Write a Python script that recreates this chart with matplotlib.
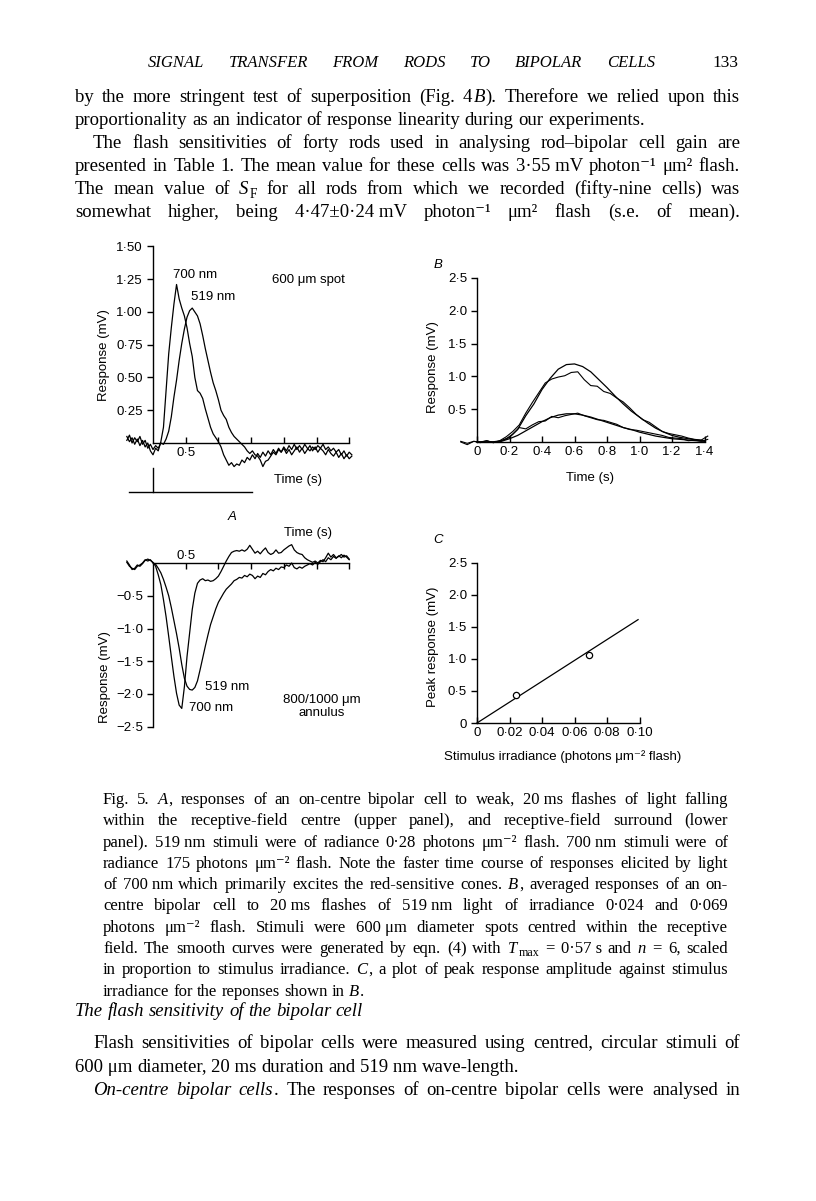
import numpy as np
import matplotlib
matplotlib.use("Agg")
import matplotlib.pyplot as plt
from matplotlib.backends.backend_agg import get_hinting_flag

W, H = 816, 1201
SANS = "Liberation Sans"
SERIF = "Liberation Serif"
BOOK = [SERIF, "DejaVu Serif"]

# ---- panel A, traces sampled every 40 ms (time of flash = 0) ----
T_A = np.round(np.arange(-0.40, 3.05, 0.04), 2)

A_UP_700 = [0.05, 0.01, 0.04, -0.01, 0.03, -0.02, 0.02, -0.03, 0.00, -0.06,
            -0.09, -0.04, -0.06, 0.01, 0.12, 0.40, 0.68, 0.88, 1.06, 1.21,
            1.10, 1.03, 0.97, 0.88, 0.76, 0.66, 0.50, 0.40, 0.38, 0.34,
            0.26, 0.19, 0.12, 0.07, 0.04, 0.01, -0.03, -0.09, -0.13, -0.17,
            -0.15, -0.18, -0.16, -0.17, -0.13, -0.15, -0.11, -0.13, -0.09, -0.12,
            -0.08, -0.11, -0.07, -0.10, -0.06, -0.09, -0.05, -0.08, -0.04, -0.07,
            -0.04, -0.08, -0.05, -0.09, -0.06, -0.03, -0.07, -0.04, -0.08, -0.05,
            -0.02, -0.06, -0.03, -0.07, -0.04, -0.06, -0.09, -0.05, -0.08, -0.10,
            -0.07, -0.11, -0.08, -0.12, -0.09, -0.12, -0.10]
A_UP_519 = [0.02, 0.06, 0.00, 0.04, 0.01, 0.05, -0.01, 0.02, -0.04, -0.01,
            -0.05, -0.02, -0.04, 0.00, -0.01, 0.03, 0.09, 0.20, 0.35, 0.48,
            0.63, 0.76, 0.87, 0.96, 1.01, 1.03, 1.00, 0.97, 0.91, 0.82,
            0.72, 0.63, 0.54, 0.46, 0.40, 0.33, 0.25, 0.21, 0.18, 0.12,
            0.08, 0.05, 0.03, 0.01, -0.01, -0.03, -0.06, -0.08, -0.06, -0.09,
            -0.10, -0.13, -0.18, -0.14, -0.13, -0.10, -0.07, -0.09, -0.05, -0.07,
            -0.03, -0.06, -0.02, -0.05, -0.01, -0.05, -0.02, -0.05, -0.01, -0.04,
            -0.06, -0.03, -0.05, -0.02, -0.04, -0.01, -0.05, -0.03, -0.06, -0.04,
            -0.07, -0.05, -0.09, -0.06, -0.10, -0.07, -0.09]

A_LO_700 = [0.03, -0.03, -0.10, -0.08, -0.03, -0.05, -0.01, 0.04, 0.06, 0.04,
            0.01, -0.05, -0.18, -0.33, -0.56, -0.82, -1.12, -1.43, -1.73, -1.99,
            -2.17, -2.22, -1.89, -1.43, -1.07, -0.71, -0.46, -0.31, -0.26, -0.24,
            -0.27, -0.26, -0.28, -0.27, -0.24, -0.20, -0.13, -0.05, 0.03, 0.10,
            0.16, 0.18, 0.19, 0.18, 0.20, 0.18, 0.21, 0.27, 0.21, 0.15,
            0.18, 0.14, 0.19, 0.23, 0.16, 0.13, 0.15, 0.20, 0.15, 0.16,
            0.20, 0.23, 0.26, 0.28, 0.20, 0.16, 0.14, 0.13, 0.08, 0.05,
            0.03, 0.01, 0.03, 0.00, 0.04, 0.02, 0.08, 0.15, 0.09, 0.13,
            0.08, 0.10, 0.13, 0.09, 0.11, 0.06]
A_LO_519 = [0.01, -0.05, -0.08, -0.10, -0.05, -0.03, 0.00, 0.05, 0.03, 0.05,
            0.00, -0.02, -0.08, -0.15, -0.25, -0.37, -0.50, -0.68, -0.88, -1.08,
            -1.30, -1.55, -1.76, -1.88, -1.93, -1.94, -1.90, -1.80, -1.63, -1.45,
            -1.27, -1.10, -0.94, -0.82, -0.70, -0.60, -0.53, -0.46, -0.40, -0.36,
            -0.32, -0.27, -0.25, -0.22, -0.23, -0.19, -0.21, -0.17, -0.19, -0.24,
            -0.20, -0.22, -0.16, -0.18, -0.13, -0.10, -0.12, -0.08, -0.10, -0.06,
            -0.07, -0.03, -0.05, 0.00, -0.07, -0.09, -0.06, -0.08, -0.05, -0.03,
            -0.01, -0.03, 0.01, -0.02, 0.02, 0.05, 0.02, 0.08, 0.05, 0.10,
            0.07, 0.11, 0.08, 0.12, 0.09, 0.05]

# flash marker under the upper trace (s, mV)
STIM_BAR_T = [-0.37, 1.52]
STIM_LEVEL = -0.375
STIM_TOP = -0.19

A_XTICKS = [0.5, 1.0, 1.5, 2.0, 2.5, 3.0]
A_XLABELS = ["0·5", "", "", "", "", ""]
A_UP_YTICKS = [0.25, 0.5, 0.75, 1.0, 1.25, 1.5]
A_UP_YLABELS = ["0·25", "0·50", "0·75", "1·00", "1·25", "1·50"]
A_LO_YTICKS = [-0.5, -1.0, -1.5, -2.0, -2.5]
A_LO_YLABELS = ["\u22120·5", "\u22121·0", "\u22121·5", "\u22122·0", "\u22122·5"]

# ---- panel B ----
T_B = np.round(np.arange(-0.10, 1.43, 0.04), 2)
B_HIGH = [0.01, -0.02, 0.01, -0.01, 0.02, -0.01, 0.02, 0.08, 0.16, 0.26,
          0.44, 0.60, 0.75, 0.90, 0.96, 0.99, 1.01, 1.06, 1.07, 0.95,
          0.86, 0.85, 0.77, 0.74, 0.67, 0.61, 0.52, 0.42, 0.34, 0.30,
          0.23, 0.16, 0.13, 0.11, 0.09, 0.06, 0.04, 0.03, 0.09]
B_LOW = [0.00, -0.04, 0.01, 0.00, 0.02, -0.01, 0.01, 0.05, 0.12, 0.22,
         0.20, 0.26, 0.31, 0.32, 0.39, 0.37, 0.40, 0.42, 0.44, 0.40,
         0.37, 0.34, 0.33, 0.30, 0.27, 0.22, 0.19, 0.18, 0.16, 0.14,
         0.12, 0.10, 0.07, 0.06, 0.05, 0.02, 0.03, 0.01, 0.04]
T_SMOOTH = np.round(np.arange(0.0, 1.41, 0.05), 2)
B_FIT_HIGH = [0.00, 0.00, 0.003, 0.02, 0.07, 0.19, 0.40, 0.58, 0.80, 0.97,
              1.11, 1.18, 1.19, 1.15, 1.07, 0.95, 0.83, 0.70, 0.58, 0.47,
              0.38, 0.29, 0.21, 0.15, 0.10, 0.07, 0.05, 0.03, 0.02]
B_FIT_LOW = [0.00, 0.00, 0.001, 0.01, 0.05, 0.10, 0.17, 0.24, 0.31, 0.37,
             0.41, 0.43, 0.43, 0.41, 0.38, 0.34, 0.30, 0.26, 0.22, 0.19,
             0.15, 0.12, 0.09, 0.07, 0.05, 0.04, 0.03, 0.02, 0.01]
B_XTICKS = [0, 0.2, 0.4, 0.6, 0.8, 1.0, 1.2, 1.4]
B_XLABELS = ["0", "0·2", "0·4", "0·6", "0·8", "1·0", "1·2", "1·4"]
B_YTICKS = [0.5, 1.0, 1.5, 2.0, 2.5]
B_YLABELS = ["0·5", "1·0", "1·5", "2·0", "2·5"]

# ---- panel C ----
C_IRR = [0.024, 0.069]
C_PEAK = [0.44, 1.06]
C_FIT_X = [0.0, 0.099]
C_FIT_Y = [0.0, 1.61]
C_XTICKS = [0, 0.02, 0.04, 0.06, 0.08, 0.10]
C_XLABELS = ["0", "0·02", "0·04", "0·06", "0·08", "0·10"]
C_YTICKS = [0, 0.5, 1.0, 1.5, 2.0, 2.5]
C_YLABELS = ["0", "0·5", "1·0", "1·5", "2·0", "2·5"]

# ---- page text ----
# inside a word, "|" splits pieces; a piece starting with ~ is italic, with _ a subscript
HEADER = "SIGNAL TRANSFER FROM RODS TO BIPOLAR CELLS"
PAGE_NO = "133"
BODY = [
    ("by the more stringent test of superposition (Fig. 4|~B|). Therefore we relied upon this", 75, True),
    ("proportionality as an indicator of response linearity during our experiments.", 75, False),
    ("The flash sensitivities of forty rods used in analysing rod\u2013bipolar cell gain are", 93, True),
    ("presented in Table 1. The mean value for these cells was 3·55\u00a0mV photon\u207b\u00b9 \u03bcm\u00b2 flash.", 75, True),
    ("The mean value of ~S|_F for all rods from which we recorded (fifty-nine cells) was", 75, True),
    ("somewhat higher, being 4·47\u00b10·24\u00a0mV photon\u207b\u00b9 \u03bcm\u00b2 flash (s.e. of mean).", 75, True),
]
CAPTION = [
    ("Fig. 5. ~A|, responses of an on-centre bipolar cell to weak, 20\u00a0ms flashes of light falling", True),
    ("within the receptive-field centre (upper panel), and receptive-field surround (lower", True),
    ("panel). 519\u00a0nm stimuli were of radiance 0·28 photons \u03bcm\u207b\u00b2 flash. 700\u00a0nm stimuli were of", True),
    ("radiance 175 photons \u03bcm\u207b\u00b2 flash. Note the faster time course of responses elicited by light", True),
    ("of 700\u00a0nm which primarily excites the red-sensitive cones. ~B|, averaged responses of an on-", True),
    ("centre bipolar cell to 20\u00a0ms flashes of 519\u00a0nm light of irradiance 0·024 and 0·069", True),
    ("photons \u03bcm\u207b\u00b2 flash. Stimuli were 600\u00a0\u03bcm diameter spots centred within the receptive", True),
    ("field. The smooth curves were generated by eqn. (4) with ~T|_max = 0·57\u00a0s and ~n = 6, scaled", True),
    ("in proportion to stimulus irradiance. ~C|, a plot of peak response amplitude against stimulus", True),
    ("irradiance for the reponses shown in ~B|.", False),
]
SECTION = "The flash sensitivity of the bipolar cell"
TAIL = [
    ("Flash sensitivities of bipolar cells were measured using centred, circular stimuli of", 93, True),
    ("600\u00a0\u03bcm diameter, 20\u00a0ms duration and 519\u00a0nm wave-length.", 75, False),
    ("~On-centre ~bipolar ~cells|. The responses of on-centre bipolar cells were analysed in", 93, True),
]

plt.rcParams.update({
    "font.family": SANS,
    "axes.linewidth": 1.0,
    "lines.linewidth": 0.8,
    "xtick.labelsize": 9.5,
    "ytick.labelsize": 9.5,
    "xtick.major.size": 4.2,
    "ytick.major.size": 4.2,
    "xtick.major.width": 1.0,
    "ytick.major.width": 1.0,
    "xtick.major.pad": 3,
    "ytick.major.pad": 3,
})

fig = plt.figure(figsize=(W / 100, H / 100), dpi=100)
renderer = fig.canvas.get_renderer()


def px_axes(x_zero, y_zero, sx, sy, xlim, ylim):
    # place an axes so that data (0, 0) sits at pixel (x_zero, y_zero)
    left = x_zero + xlim[0] * sx
    right = x_zero + xlim[1] * sx
    top = y_zero - ylim[1] * sy
    bottom = y_zero - ylim[0] * sy
    ax = fig.add_axes([left / W, 1 - bottom / H, (right - left) / W, (bottom - top) / H])
    ax.set_xlim(xlim)
    ax.set_ylim(ylim)
    ax.patch.set_visible(False)
    for s in ax.spines.values():
        s.set_visible(False)
    return ax


def cross(ax, xb, yb, xside="bottom"):
    ax.spines["left"].set_visible(True)
    ax.spines["left"].set_position(("data", 0))
    ax.spines["left"].set_bounds(*yb)
    ax.spines[xside].set_visible(True)
    ax.spines[xside].set_position(("data", 0))
    ax.spines[xside].set_bounds(*xb)
    ax.xaxis.set_ticks_position(xside)
    ax.yaxis.set_ticks_position("left")
    ax.tick_params(axis="y", direction="out")
    ax.tick_params(axis="x", direction="in")


def ptext(x, y, s, **kw):
    kw.setdefault("ha", "center")
    kw.setdefault("va", "center")
    kw.setdefault("fontsize", 9.5)
    return fig.text(x / W, 1 - y / H, s, **kw)


def snap_baseline(t, row):
    # put the glyph baseline of text t exactly on pixel row `row` (counted from the top),
    # so that words drawn as separate texts line up
    font = renderer._prepare_font(t.get_fontproperties())
    font.set_text(t.get_text(), 0, flags=get_hinting_flag())
    h = font.get_width_height()[1] / 64.0
    d = font.get_descent() / 64.0
    y = row - int(h - d) + int(h) - d
    t.set_y(1 - y / H)


def build_word(word, size, italic):
    pieces = []
    for part in word.split("|"):
        it, sub = italic, False
        while part[:1] in ("~", "_"):
            if part[0] == "~":
                it = True
            else:
                sub = True
            part = part[1:]
        t = fig.text(0, 0, part, fontsize=size * (0.72 if sub else 1.0), family=BOOK,
                     fontstyle="italic" if it else "normal", ha="left", va="baseline")
        w = t.get_window_extent(renderer=renderer).width
        pieces.append((t, w, round(0.2 * size * 100 / 72) if sub else 0))
    return pieces


def line_of_text(s, x0, row, size, x1=None, italic=False):
    kern = 1.0
    row = int(round(row))
    words = [build_word(w, size, italic) for w in s.split(" ")]
    lens = [sum(w for _, w, _ in p) + kern * (len(p) - 1) for p in words]
    space = 0.25 * size * 100 / 72
    if x1 is None or len(words) < 2:
        gap = space
    else:
        gap = max((x1 - x0 - sum(lens)) / (len(words) - 1), 0.5 * space)
    x = x0
    for pieces, length in zip(words, lens):
        xx = x
        for t, w, dy in pieces:
            t.set_x(xx / W)
            snap_baseline(t, row + dy)
            xx += w + kern
        x += length + gap


# ---------- panel A, upper (centre spot) ----------
ax = px_axes(153, 443, 65.4, 131, (-0.45, 3.12), (-0.42, 1.56))
cross(ax, (0, 3.0), (0, 1.5))
ax.plot(T_A, A_UP_700, color="black", lw=0.9)
ax.plot(T_A, A_UP_519, color="black", lw=0.9)
ax.plot(STIM_BAR_T, [STIM_LEVEL, STIM_LEVEL], color="black", lw=1.0)
ax.plot([0, 0], [STIM_TOP, STIM_LEVEL], color="black", lw=1.0)
ax.set_xticks(A_XTICKS, A_XLABELS)
ax.set_yticks(A_UP_YTICKS, A_UP_YLABELS)
ptext(195, 275, "700 nm")
ptext(213, 297, "519 nm")
ptext(308, 280, "600 \u03bcm spot")
ptext(104, 355, "Response (mV)", rotation=90)
ptext(298, 480, "Time (s)")

# ---------- panel A, lower (surround annulus) ----------
ax = px_axes(153, 563, 65.4, 65.5, (-0.45, 3.12), (-2.65, 0.6))
cross(ax, (0, 3.0), (-2.5, 0), xside="top")
ax.tick_params(axis="x", pad=1)
ax.plot(T_A[:len(A_LO_700)], A_LO_700, color="black", lw=0.9)
ax.plot(T_A[:len(A_LO_519)], A_LO_519, color="black", lw=0.9)
ax.set_xticks(A_XTICKS, A_XLABELS)
ax.set_yticks(A_LO_YTICKS, A_LO_YLABELS)
ptext(232, 517, "A", fontstyle="italic")
ptext(308, 533, "Time (s)")
ptext(227, 687, "519 nm")
ptext(211, 708, "700 nm")
ptext(322, 700, "800/1000 \u03bcm")
ptext(322, 713, "annulus")
ptext(105, 677, "Response (mV)", rotation=90)

# ---------- panel B ----------
ax = px_axes(477, 442, 162.5, 65.6, (-0.15, 1.48), (-0.15, 2.6))
cross(ax, (0, 1.4), (0, 2.5))
ax.plot(T_SMOOTH, B_FIT_HIGH, color="black", lw=0.9)
ax.plot(T_SMOOTH, B_FIT_LOW, color="black", lw=0.9)
ax.plot(T_B, B_HIGH, color="black", lw=0.8)
ax.plot(T_B, B_LOW, color="black", lw=0.8)
ax.set_xticks(B_XTICKS, B_XLABELS)
ax.set_yticks(B_YTICKS, B_YLABELS)
ptext(438, 265, "B", fontstyle="italic")
ptext(433, 367, "Response (mV)", rotation=90)
ptext(590, 478, "Time (s)")

# ---------- panel C ----------
ax = px_axes(477, 723, 1627, 64.2, (-0.008, 0.105), (-0.15, 2.6))
cross(ax, (0, 0.10), (0, 2.5))
ax.plot(C_FIT_X, C_FIT_Y, color="black", lw=0.9)
ax.plot(C_IRR, C_PEAK, "o", mfc="white", mec="black", ms=4.5, mew=0.9)
ax.set_xticks(C_XTICKS, C_XLABELS)
ax.set_yticks(C_YTICKS, C_YLABELS)
ptext(438, 540, "C", fontstyle="italic")
ptext(433, 647, "Peak response (mV)", rotation=90)
ptext(563, 757, "Stimulus irradiance (photons \u03bcm\u207b\u00b2 flash)", family=[SANS, "DejaVu Sans"])

# ---------- page text ----------
line_of_text(HEADER, 148, 67, 12, x1=655, italic=True)
fig.text(738 / W, 1 - 67 / H, PAGE_NO, fontsize=12.5, family=SERIF, ha="right", va="baseline")

for i, (s, x0, just) in enumerate(BODY):
    line_of_text(s, x0, 102 + 23 * i, 13.5, x1=740 if just else None)

for i, (s, just) in enumerate(CAPTION):
    line_of_text(s, 103, 804 + 21.3 * i, 12, x1=728 if just else None)

line_of_text(SECTION, 75, 1016, 13.5, italic=True)
for (s, x0, just), y in zip(TAIL, [1048, 1072, 1095]):
    line_of_text(s, x0, y, 13.5, x1=740 if just else None)

fig.savefig("out.png", dpi=100, facecolor="white")
